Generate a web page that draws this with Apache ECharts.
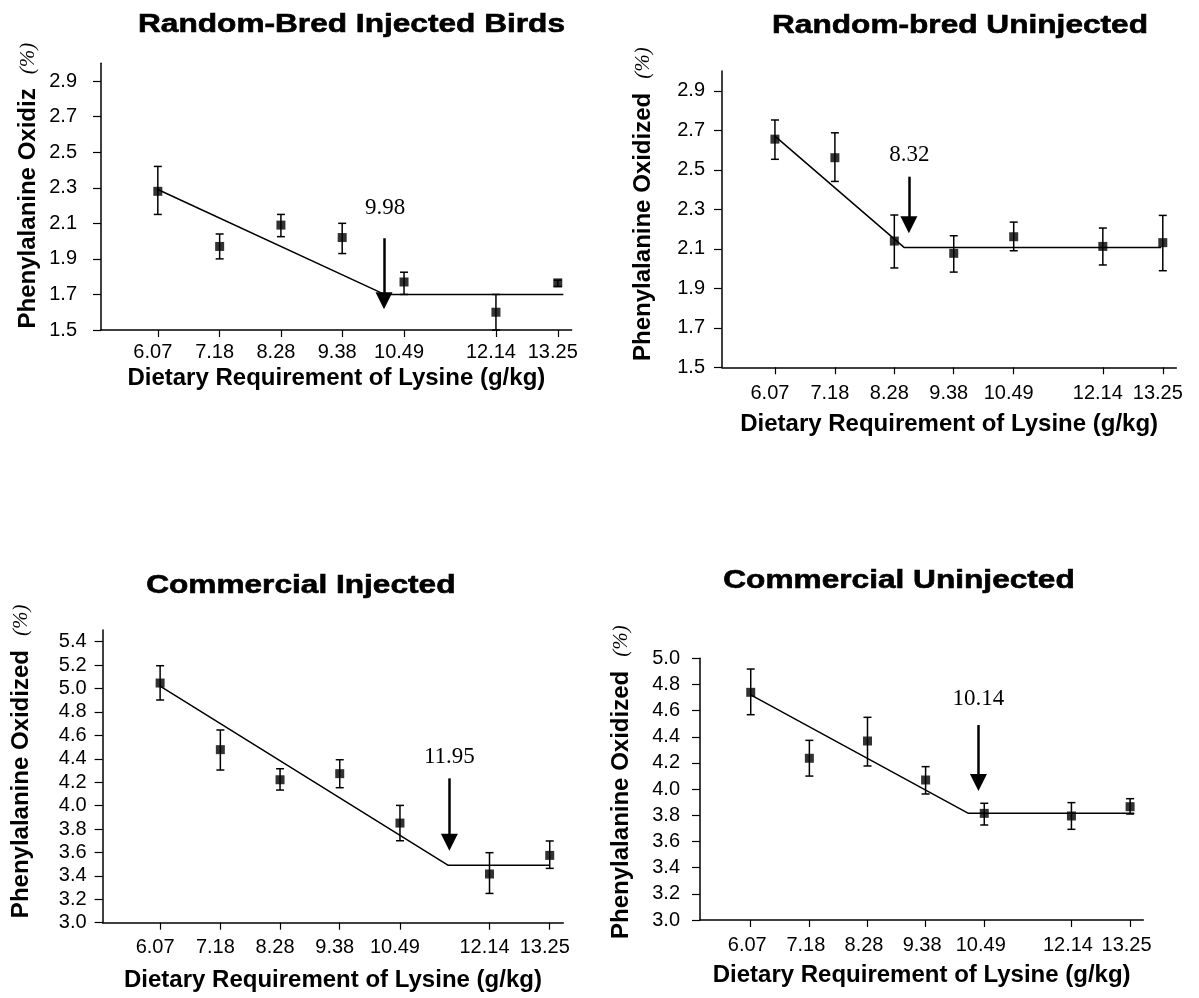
<!DOCTYPE html>
<html>
<head>
<meta charset="utf-8">
<script src="https://cdn.jsdelivr.net/npm/echarts@6/dist/echarts.min.js"></script>
<style>
html,body{margin:0;padding:0;background:#fff;}
#chart{width:1199px;height:998px;}
</style>
</head>
<body>
<div id="chart"></div>
<script>
// ---------- data ----------
const lysine = [6.07, 7.18, 8.28, 9.38, 10.49, 12.14, 13.25];
const xTickLabels = [6.07, 7.18, 8.28, 9.38, 10.49, 12.14, 13.25];
const yTicksRandom = [1.5, 1.7, 1.9, 2.1, 2.3, 2.5, 2.7, 2.9];
const yTicksCommInj = [3.0, 3.2, 3.4, 3.6, 3.8, 4.0, 4.2, 4.4, 4.6, 4.8, 5.0, 5.2, 5.4];
const yTicksCommUninj = [3.0, 3.2, 3.4, 3.6, 3.8, 4.0, 4.2, 4.4, 4.6, 4.8, 5.0];

const titles = ['Random-Bred Injected Birds', 'Random-bred Uninjected', 'Commercial Injected', 'Commercial Uninjected'];
const yNames = ['Phenylalanine Oxidiz', 'Phenylalanine Oxidized', 'Phenylalanine Oxidized', 'Phenylalanine Oxidized'];
const xName = 'Dietary Requirement of Lysine (g/kg)';

// Random-bred injected
const rbInjMean  = [2.28, 1.97, 2.09, 2.02, 1.77, 1.60, 1.765];
const rbInjUpper = [2.42, 2.04, 2.15, 2.10, 1.825, 1.70, 1.78];
const rbInjLower = [2.15, 1.90, 2.025, 1.93, 1.70, 1.50, 1.745];
const rbInjFitX  = [6.07, 10.14, 13.35];
const rbInjFitY  = [2.29, 1.70, 1.70];
const rbInjArrow = [10.13, 2.016, 1.665];
const rbInjLabel = [10.15, 2.185, '9.98'];

// Random-bred uninjected
const rbUnMean  = [2.655, 2.561, 2.139, 2.077, 2.161, 2.112, 2.131];
const rbUnUpper = [2.752, 2.687, 2.271, 2.166, 2.235, 2.205, 2.269];
const rbUnLower = [2.553, 2.441, 2.003, 1.982, 2.090, 2.018, 1.989];
const rbUnFitX  = [6.07, 8.46, 13.22];
const rbUnFitY  = [2.67, 2.107, 2.107];
const rbUnArrow = [8.55, 2.465, 2.222];
const rbUnLabel = [8.56, 2.574, '8.32'];

// Commercial injected
const cInjMean  = [5.047, 4.478, 4.221, 4.273, 3.851, 3.416, 3.575];
const cInjUpper = [5.195, 4.646, 4.315, 4.392, 4.002, 3.598, 3.698];
const cInjLower = [4.902, 4.304, 4.133, 4.153, 3.700, 3.250, 3.464];
const cInjFitX  = [6.07, 11.38, 13.25];
const cInjFitY  = [5.02, 3.49, 3.49];
const cInjArrow = [11.40, 4.233, 3.687];
const cInjLabel = [11.40, 4.418, '11.95'];

// Commercial uninjected
const cUnMean  = [4.74, 4.236, 4.368, 4.07, 3.815, 3.795, 3.866];
const cUnUpper = [4.918, 4.373, 4.549, 4.172, 3.892, 3.897, 3.927];
const cUnLower = [4.569, 4.10, 4.177, 3.963, 3.726, 3.693, 3.81];
const cUnFitX  = [6.07, 10.19, 13.33];
const cUnFitY  = [4.72, 3.815, 3.815];
const cUnArrow = [10.38, 4.49, 4.051];
const cUnLabel = [10.38, 4.69, '10.14'];

// ---------- layout ----------
const panels = [
  {mean: rbInjMean, upper: rbInjUpper, lower: rbInjLower, fitX: rbInjFitX, fitY: rbInjFitY, arrow: rbInjArrow, label: rbInjLabel,
   grid: {left: 101, top: 63.3, width: 470.7, height: 266.7}, xMin: 5.05, yMin: 1.5, yMax: 3.0, yTicks: yTicksRandom,
   yLabelMargin: 24, xLabelMargin: 12, xLabelShift: 5, xNameGap: 36, yNameGap: 61, yNameShift: 11, title: [351.5, 25.5]},
  {mean: rbUnMean, upper: rbUnUpper, lower: rbUnLower, fitX: rbUnFitX, fitY: rbUnFitY, arrow: rbUnArrow, label: rbUnLabel,
   grid: {left: 722, top: 71, width: 454.3, height: 296.3}, xMin: 5.09, yMin: 1.5, yMax: 3.0, yTicks: yTicksRandom,
   yLabelMargin: 17, xLabelMargin: 16, xLabelShift: 5, xNameGap: 45, yNameGap: 67, yNameShift: 15, title: [960, 25.8]},
  {mean: cInjMean, upper: cInjUpper, lower: cInjLower, fitX: cInjFitX, fitY: cInjFitY, arrow: cInjArrow, label: cInjLabel,
   grid: {left: 102.6, top: 630, width: 460.7, height: 292.7}, xMin: 5.01, yMin: 3.0, yMax: 5.5, yTicks: yTicksCommInj,
   yLabelMargin: 16, xLabelMargin: 15, xLabelShift: 5, xNameGap: 46, yNameGap: 69, yNameShift: 15, title: [300.8, 586]},
  {mean: cUnMean, upper: cUnUpper, lower: cUnLower, fitX: cUnFitX, fitY: cUnFitY, arrow: cUnArrow, label: cUnLabel,
   grid: {left: 700, top: 658.3, width: 443.3, height: 261.7}, xMin: 5.11, yMin: 3.0, yMax: 5.0, yTicks: yTicksCommUninj,
   yLabelMargin: 20, xLabelMargin: 15, xLabelShift: 3.5, xNameGap: 43, yNameGap: 67, yNameShift: 7, title: [899, 580.8]}
];

const SANS = '"Liberation Sans", Arial, Helvetica, sans-serif';
const SERIF = '"Liberation Serif", "Times New Roman", serif';

const grid = [], xAxis = [], yAxis = [], series = [], graphic = [];

panels.forEach((p, i) => {
  grid.push(Object.assign({containLabel: false}, p.grid));
  xAxis.push({
    type: 'value', gridIndex: i, min: p.xMin, max: 13.5,
    name: xName, nameLocation: 'middle', nameGap: p.xNameGap,
    nameTextStyle: {fontFamily: SANS, fontWeight: 'bold', fontSize: 24, color: '#000'},
    axisLine: {show: true, onZero: false, lineStyle: {color: '#000', width: 1.5}},
    axisTick: {show: true, inside: false, length: 7, customValues: xTickLabels, lineStyle: {color: '#000', width: 1.2}},
    axisLabel: {show: true, customValues: xTickLabels, margin: p.xLabelMargin, fontFamily: SANS, fontSize: 20, color: '#000',
      padding: [0, p.xLabelShift * 2, 0, 0],
      formatter: v => v.toFixed(2), hideOverlap: false},
    splitLine: {show: false}
  });
  yAxis.push({
    type: 'value', gridIndex: i, min: p.yMin, max: p.yMax,
    name: '{a|' + yNames[i] + '}{b|(%)}', nameLocation: 'middle', nameGap: p.yNameGap,
    nameTextStyle: {
      color: '#000', padding: [0, 0, 0, p.yNameShift * 2],
      rich: {
        a: {fontFamily: SANS, fontWeight: 'bold', fontSize: 24, color: '#000'},
        b: {fontFamily: SERIF, fontStyle: 'italic', fontSize: 21, color: '#000', padding: [0, 0, 0, 14]}
      }
    },
    axisLine: {show: true, onZero: false, lineStyle: {color: '#000', width: 1.5}},
    axisTick: {show: true, inside: false, length: 8, customValues: p.yTicks, lineStyle: {color: '#000', width: 1.2}},
    axisLabel: {show: true, customValues: p.yTicks, margin: p.yLabelMargin, fontFamily: SANS, fontSize: 20, color: '#000',
      formatter: v => v.toFixed(1)},
    splitLine: {show: false}
  });

  // error bars
  series.push({
    type: 'custom', xAxisIndex: i, yAxisIndex: i, silent: true, z: 3,
    data: lysine.map((x, k) => [x, p.lower[k], p.upper[k]]),
    encode: {x: 0, y: [1, 2]},
    renderItem: function (params, api) {
      const x = api.value(0);
      const lo = api.coord([x, api.value(1)]);
      const hi = api.coord([x, api.value(2)]);
      const w = 4;
      const st = {stroke: '#000', lineWidth: 1.5};
      return {type: 'group', children: [
        {type: 'line', shape: {x1: lo[0], y1: lo[1], x2: hi[0], y2: hi[1]}, style: st},
        {type: 'line', shape: {x1: lo[0] - w, y1: lo[1], x2: lo[0] + w, y2: lo[1]}, style: st},
        {type: 'line', shape: {x1: hi[0] - w, y1: hi[1], x2: hi[0] + w, y2: hi[1]}, style: st}
      ]};
    }
  });

  // fitted broken-line regression with arrow + breakpoint label
  series.push({
    type: 'line', xAxisIndex: i, yAxisIndex: i, silent: true, z: 4,
    data: p.fitX.map((x, k) => [x, p.fitY[k]]),
    showSymbol: false, symbol: 'none',
    lineStyle: {color: '#000', width: 1.5},
    markLine: {
      silent: true, symbol: ['none', 'triangle'], symbolSize: 17,
      lineStyle: {color: '#000', width: 2.5, type: 'solid'},
      itemStyle: {color: '#000'},
      label: {show: false},
      data: [[
        {coord: [p.arrow[0], p.arrow[1]], symbol: 'none'},
        {coord: [p.arrow[0], p.arrow[2]], symbol: 'triangle', symbolSize: 17}
      ]]
    },
    markPoint: {
      silent: true, symbol: 'circle', symbolSize: 1,
      itemStyle: {color: 'rgba(0,0,0,0)'},
      label: {show: true, position: 'inside', fontFamily: SERIF, fontSize: 23, color: '#000', formatter: () => p.label[2]},
      data: [{coord: [p.label[0], p.label[1]]}]
    }
  });

  // means
  series.push({
    type: 'scatter', xAxisIndex: i, yAxisIndex: i, silent: true, z: 5,
    symbol: 'rect', symbolSize: 9,
    itemStyle: {color: '#000'},
    data: lysine.map((x, k) => [x, p.mean[k]])
  });

  graphic.push({
    type: 'text', x: p.title[0], y: p.title[1], scaleX: 1.265, scaleY: 1,
    style: {text: titles[i], fontFamily: SANS, fontWeight: 'bold', fontSize: 25, fill: '#000',
      stroke: '#000', lineWidth: 0.6, align: 'center', verticalAlign: 'middle'}
  });
});

const chart = echarts.init(document.getElementById('chart'), null, {renderer: 'canvas'});
chart.setOption({
  backgroundColor: '#fff',
  animation: false,
  grid, xAxis, yAxis, series, graphic
});
</script>
</body>
</html>
